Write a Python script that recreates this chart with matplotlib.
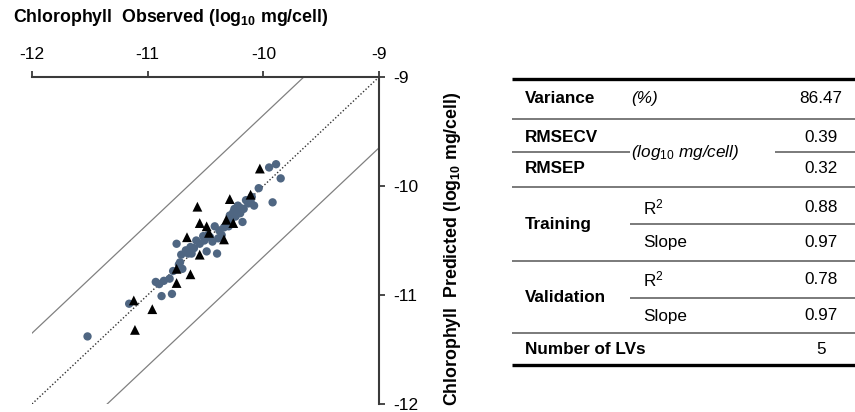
import matplotlib

matplotlib.use("Agg")
import matplotlib.pyplot as plt
import numpy as np

plt.rcParams["font.family"] = ["Liberation Sans", "DejaVu Sans"]
plt.rcParams["mathtext.fontset"] = "custom"
plt.rcParams["mathtext.rm"] = "Liberation Sans"
plt.rcParams["mathtext.it"] = "Liberation Sans:italic"
plt.rcParams["mathtext.bf"] = "Liberation Sans:bold"
plt.rcParams["axes.unicode_minus"] = False

# training set (circles): observed, predicted (log10 mg/cell)
train_obs = [-11.52, -11.16, -10.88, -10.79, -10.93, -10.90, -10.86, -10.81, -10.78, -10.73,
             -10.70, -10.75, -10.71, -10.67, -10.63, -10.62, -10.55, -10.51, -10.49, -10.46,
             -10.44, -10.42, -10.38, -10.39, -10.40, -10.36, -10.30, -10.29, -10.26, -10.22,
             -10.20, -10.17, -10.18, -10.15, -10.13, -10.08, -10.04, -9.95, -9.89, -9.85,
             -9.92, -10.25, -10.11, -10.28, -10.65, -10.72, -10.60, -10.58, -10.34, -10.24,
             -10.10, -10.20, -10.52, -10.48]
train_pred = [-11.38, -11.08, -11.01, -10.99, -10.88, -10.90, -10.87, -10.85, -10.78, -10.72,
              -10.76, -10.53, -10.63, -10.59, -10.56, -10.62, -10.53, -10.50, -10.60, -10.47,
              -10.51, -10.37, -10.41, -10.48, -10.62, -10.45, -10.37, -10.27, -10.24, -10.18,
              -10.25, -10.21, -10.33, -10.13, -10.16, -10.18, -10.02, -9.83, -9.80, -9.93,
              -10.15, -10.21, -10.14, -10.32, -10.62, -10.70, -10.57, -10.50, -10.38, -10.28,
              -10.10, -10.20, -10.46, -10.45]

# validation set (triangles)
val_obs = [-10.03, -10.11, -10.29, -10.57, -10.55, -10.49, -10.47, -10.32, -10.26, -10.66,
           -10.34, -10.55, -10.75, -10.63, -10.75, -11.12, -10.96, -11.11]
val_pred = [-9.84, -10.08, -10.12, -10.19, -10.34, -10.37, -10.43, -10.31, -10.34, -10.47,
            -10.49, -10.63, -10.76, -10.81, -10.89, -11.05, -11.13, -11.32]

ticks = [-12, -11, -10, -9]
band = 0.65

# table content
row_labels = ["Variance", "RMSECV", "RMSEP", "Training", "Validation", "Number of LVs"]
sub_labels = ["R$^2$", "Slope", "R$^2$", "Slope"]
table_values = ["86.47", "0.39", "0.32", "0.88", "0.97", "0.78", "0.97", "5"]

fig = plt.figure(figsize=(8.55, 4.12), dpi=100)
ax = fig.add_axes([32 / 855, 1 - 404 / 412, 347 / 855, 327 / 412])

line = np.array([-12.0, -9.0])
ax.plot(line, line, ls=(0, (1, 1.5)), color="#333333", lw=1.0)
ax.plot(line, line + band, color="#808080", lw=0.9)
ax.plot(line, line - band, color="#808080", lw=0.9)
ax.scatter(train_obs, train_pred, s=36, color="#4f6682", edgecolors="none", zorder=3)
ax.scatter(val_obs, val_pred, s=50, marker="^", color="black", edgecolors="none", zorder=4)

ax.set_xlim(-12, -9)
ax.set_ylim(-12, -9)
ax.set_xticks(ticks)
ax.set_yticks(ticks)
ax.xaxis.tick_top()
ax.yaxis.tick_right()
for s in ["left", "bottom"]:
    ax.spines[s].set_visible(False)
for s in ["top", "right"]:
    ax.spines[s].set_color("#3a3a3a")
    ax.spines[s].set_linewidth(1.5)
ax.tick_params(direction="out", length=4.5, width=1.3, color="#3a3a3a", labelsize=12.5, pad=6)

fig.text(13 / 855, 1 - 18 / 412, r"Chlorophyll  Observed (log$_\mathbf{10}$ mg/cell)",
         fontsize=12.8, fontweight="bold", ha="left", va="center")
fig.text(452 / 855, 1 - 249 / 412, r"Chlorophyll  Predicted (log$_\mathbf{10}$ mg/cell)",
         fontsize=12.8, fontweight="bold", rotation=90, ha="center", va="center")

# table drawn in pixel-like coordinates
tab = fig.add_axes([0, 0, 1, 1])
tab.set_xlim(0, 855)
tab.set_ylim(412, 0)
tab.axis("off")

x0, x1 = 512, 855
xl, xm, xs, xv = 525, 631, 643, 821
tab.hlines([79, 365], x0, x1, color="black", lw=2.4)
tab.hlines([119, 187, 261, 333], x0, x1, color="#7a7a7a", lw=1.4)
tab.hlines([152, 152], [x0, 775], [630, x1], color="#7a7a7a", lw=1.4)
tab.hlines([224, 298], 630, x1, color="#7a7a7a", lw=1.4)

fs = 12.3
label_y = [98, 137, 168, 224, 297, 349]
for lab, y in zip(row_labels, label_y):
    tab.text(xl, y, lab, fontsize=fs, fontweight="bold", ha="left", va="center")
tab.text(xm, 98, "(%)", fontsize=fs, style="italic", ha="left", va="center")
tab.text(xm, 152, r"(log$_\mathit{10}$ mg/cell)", fontsize=fs, style="italic", ha="left", va="center")
sub_y = [207, 242, 279, 316]
for lab, y in zip(sub_labels, sub_y):
    tab.text(xs, y, lab, fontsize=fs, ha="left", va="center")
value_y = [98, 137, 168, 207, 242, 279, 316, 349]
for v, y in zip(table_values, value_y):
    tab.text(xv, y, v, fontsize=fs, ha="center", va="center")

fig.savefig("out.png", dpi=100)
